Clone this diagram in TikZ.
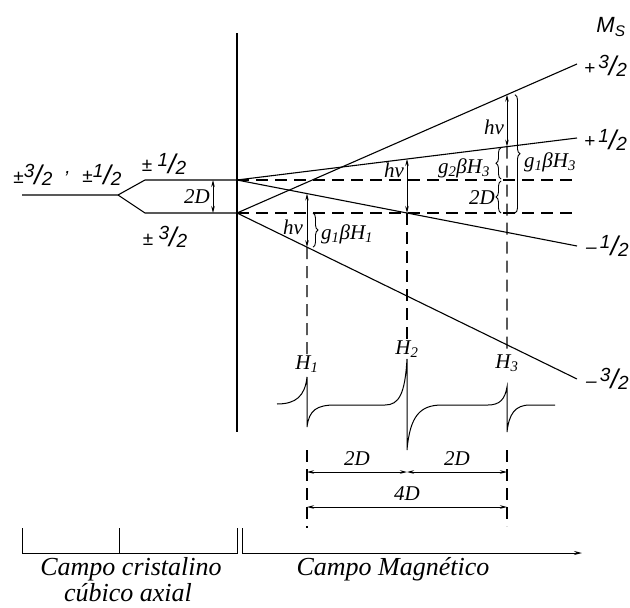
\documentclass[tikz,border=0pt]{standalone}
\usepackage{fontspec}
\setmainfont{Liberation Serif}
\setsansfont{Liberation Sans}
\usetikzlibrary{arrows.meta,calc,positioning,decorations.pathreplacing}
\newcommand{\fr}[2]{\raisebox{.3em}{#1}\raisebox{-.1em}{\fontsize{27}{27}\selectfont/}\raisebox{-.15em}{#2}}
\tikzset{
  niv/.style={line width=1.1pt},
  guia/.style={line width=1.1pt,dash pattern=on 12pt off 7pt},
  flecha/.style={line width=0.8pt,{Stealth[length=7pt,width=3.5pt]}-{Stealth[length=7pt,width=3.5pt]}},
  llave/.style={line width=0.9pt,decorate,decoration={brace,amplitude=5pt}},
  ms/.style={font=\sffamily\itshape\fontsize{19}{19}\selectfont,inner sep=0pt},
  et/.style={font=\itshape\fontsize{21}{21}\selectfont,inner sep=0pt},
  campo/.style={font=\itshape\fontsize{26}{28}\selectfont,inner sep=0pt},
}
\begin{document}
\begin{tikzpicture}[x=1pt,y=-1pt]
\useasboundingbox (0,0) rectangle (630,608);
% eixo vertical
\coordinate (vt) at (237,33);
\coordinate (vb) at (237,432);
\draw[niv] (vt) -- (vb);
% campo cristalino
\coordinate (c0) at (22,195);
\coordinate (c1) at (118,195);
\coordinate (s1) at (145,180);
\coordinate (s3) at (145,213);
\coordinate (o1) at (237,180);
\coordinate (o3) at (237,213);
\draw[niv] (c0) -- (c1) -- (s1) -- (o1);
\draw[niv] (c1) -- (s3) -- (o3);
\node[ms] (l32) at (33,175) {±\fr{3}{2}};
\node[ms] (lc) at (68,174) {,};
\node[ms] (l12) at (102,175) {±\fr{1}{2}};
\node[ms] (u12) at (164,164) {± \fr{1}{2}};
\node[ms] (u32) at (165,237) {± \fr{3}{2}};
\coordinate (q1) at (213,180);
\coordinate (q3) at (213,213);
\coordinate (qm) at (213,197);
\draw[flecha] (q1) -- (q3);
\node[et,left=3pt of qm] (dd0) {2D};
% campo magnetico
\coordinate (e32) at (577,64);
\coordinate (e12) at (577,138);
\coordinate (f12) at (577,246);
\coordinate (f32) at (577,379);
\coordinate (d1) at (577,180);
\coordinate (d3) at (577,213);
\draw[niv] (o3) -- (e32);
\draw[niv] (o1) -- (e12);
\draw[niv] (o1) -- (f12);
\draw[niv] (o3) -- (f32);
\draw[guia] (o1) -- (d1);
\draw[guia] (o3) -- (d3);
\node[ms,font=\sffamily\itshape\fontsize{22}{22}\selectfont] (ms) at (611,27) {M\textsubscript{S}};
\node[ms,anchor=west] (m1) at (584,66) {+\kern3pt\fr{3}{2}};
\node[ms,anchor=west] (m2) at (584,140) {+\kern3pt\fr{1}{2}};
\node[ms,anchor=west] (m3) at (586,246) {\textendash\,\fr{1}{2}};
\node[ms,anchor=west] (m4) at (586,379) {\textendash\,\fr{3}{2}};
% transicoes
\coordinate (h1a) at ($(o1)!0.2059!(f12)$);
\coordinate (h1b) at ($(o3)!0.2059!(f32)$);
\coordinate (h2a) at ($(o1)!0.5!(e12)$);
\coordinate (h2b) at ($(o1)!0.5!(f12)$);
\coordinate (h3a) at ($(o3)!0.7941!(e32)$);
\coordinate (h3b) at ($(o1)!0.7941!(e12)$);
\coordinate (h3c) at (507,180);
\coordinate (h3d) at (507,213);
\coordinate (h1c) at (307,213);
\draw[flecha] (h1a) -- (h1b);
\draw[flecha] (h2a) -- (h2b);
\draw[flecha] (h3a) -- (h3b);
\node[et] (hv1) at (293,227) {hν};
\node[et] (hv2) at (394,170) {hν};
\node[et] (hv3) at (494,127) {hν};
\draw[llave] ($(h1c)+(6,0)$) -- ($(h1b)+(6,0)$);
\node[et,anchor=west] (g1) at (321,234) {g\textsubscript{1}βH\textsubscript{1}};
\draw[llave] ($(h3c)+(-6,-1)$) -- ($(h3b)+(-6,1)$);
\draw[llave] ($(h3d)+(-6,0)$) -- ($(h3c)+(-6,1)$);
\draw[llave] ($(h3a)+(8,0)$) -- ($(h3d)+(8,0)$);
\node[et] (g2) at (464,168) {g\textsubscript{2}βH\textsubscript{3}};
\node[et] (dd3) at (482,198) {2D};
\node[et] (g3) at (550,162) {g\textsubscript{1}βH\textsubscript{3}};
% espectro
\node[et] (t1) at (307,364) {H\textsubscript{1}};
\node[et] (t2) at (407,349) {H\textsubscript{2}};
\node[et] (t3) at (507,363) {H\textsubscript{3}};
\draw[guia] (h1b) -- (t1.north);
\draw[guia] (h2b) -- (t2.north);
\draw[guia] (h3b) -- (t3.north);
\draw[line width=1pt] (277,404) .. controls (296,404) and (305,396) .. (307,377) -- (307,427)
  .. controls (309,410) and (317,405) .. (335,405) -- (385,405)
  .. controls (399,405) and (405,394) .. (407,359) -- (407,450)
  .. controls (410,416) and (420,405) .. (442,405) -- (488,405)
  .. controls (500,405) and (505,399) .. (507,387) -- (507,432)
  .. controls (509,414) and (515,405) .. (530,405) -- (555,405);
% cotas
\coordinate (k1) at (307,450);
\coordinate (k3) at (507,450);
\coordinate (k1b) at (307,528);
\coordinate (k3b) at (507,526);
\draw[guia] (k1) -- (k1b);
\draw[guia] (k3) -- (k3b);
\coordinate (b1) at (307,472);
\coordinate (b2) at (407,472);
\coordinate (b3) at (507,472);
\coordinate (a1) at (307,507);
\coordinate (a3) at (507,507);
\draw[flecha] (b1) -- node[et,above=6pt] (dd1) {2D} (b2);
\draw[flecha] (b2) -- node[et,above=6pt] (dd2) {2D} (b3);
\draw[flecha] (a1) -- node[et,above=6pt] (dd4) {4D} (a3);
% eixo inferior
\coordinate (x0) at (22,528);
\coordinate (x1) at (119,528);
\coordinate (x2) at (237,528);
\coordinate (x3) at (242,528);
\coordinate (xf) at (582,553);
\draw[line width=1pt] (x0) |- (x2 |- xf) -- (x2);
\draw[line width=1pt] (x1) -- (x1 |- xf);
\draw[line width=1pt,-{Stealth[length=8pt,width=4pt]}] (x3) |- (xf);
\node[campo] (cc) at (131,569) {Campo cristalino};
\node[campo] (ca) at (128,593) {cúbico axial};
\node[campo] (cm) at (393,569) {Campo Magnético};
\end{tikzpicture}
\end{document}
